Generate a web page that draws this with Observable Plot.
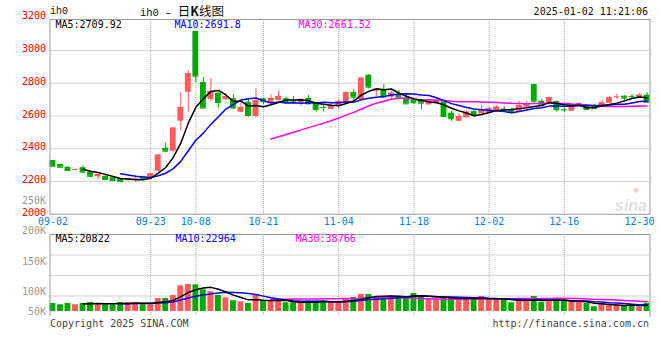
<!DOCTYPE html>
<html><head><meta charset="utf-8">
<script src="https://cdn.jsdelivr.net/npm/d3@7"></script>
<script src="https://cdn.jsdelivr.net/npm/@observablehq/plot@0.6"></script>
<style>
body{margin:0;background:#fff;}
#wrap{position:relative;width:660px;height:360px;font-family:"DejaVu Sans Mono",monospace;font-size:10px;color:#111;overflow:hidden;}
.t{position:absolute;white-space:nowrap;line-height:10px;}
#price,#vol{position:absolute;left:0;}
#price{top:0}
#vol{top:228px}
svg{overflow:visible}
</style></head><body>
<div id="wrap">
  <div id="price"></div>
  <div id="vol"></div>
  <div class="t" style="left:50px;top:7px;font-family:'Liberation Mono',monospace;">ih0</div>
  <div class="t" style="left:140px;top:4px;line-height:13px;"><span style="font-family:'Liberation Mono',monospace;font-size:10.5px">ih0 – </span><span style="font-family:'Noto Sans CJK SC';font-size:12.5px">日<b>K</b>线图</span></div>
  <div class="t" style="right:12px;top:7px;">2025-01-02 11:21:06</div>
  <div class="t" style="left:50px;top:319px;color:#444;">Copyright 2025 SINA.COM</div>
  <div class="t" style="right:11px;top:319px;color:#444;">http://finance.sina.com.cn</div>
</div>
<script>
// ---- data ----
const dates = [
 "09-02","09-03","09-04","09-05","09-06","09-09","09-10","09-11","09-12","09-13",
 "09-18","09-19","09-20","09-23","09-24","09-25","09-26","09-27","09-30",
 "10-08","10-09","10-10","10-11","10-14","10-15","10-16","10-17","10-18",
 "10-21","10-22","10-23","10-24","10-25","10-28","10-29","10-30","10-31",
 "11-01","11-04","11-05","11-06","11-07","11-08","11-11","11-12","11-13","11-14","11-15",
 "11-18","11-19","11-20","11-21","11-22","11-25","11-26","11-27","11-28","11-29",
 "12-02","12-03","12-04","12-05","12-06","12-09","12-10","12-11","12-12","12-13",
 "12-16","12-17","12-18","12-19","12-20","12-23","12-24","12-25","12-26","12-27","12-30","12-31"
];
const open = [2328,2304,2287,2271,2284,2257,2229,2232,2223,2216,2208,2215,2230,2218,2263,2403,2385,2568,2745,
 3116,2805,2701,2739,2699,2705,2623,2684,2597,2705,2681,2695,2705,2693,2681,2707,2674,2653,
 2640,2664,2678,2743,2699,2849,2750,2756,2715,2729,2711,2695,2695,2668,2674,2686,2617,2568,2589,2627,2613,
 2620,2634,2642,2640,2629,2654,2792,2690,2674,2689,2639,2629,2660,2660,2660,2654,2678,2716,2721,2720,2709,2727];
const high = [2330,2306,2290,2276,2296,2259,2247,2235,2225,2218,2218,2235,2232,2252,2364,2436,2528,2742,2878,
 3116,2835,2831,2741,2736,2729,2681,2699,2766,2707,2729,2750,2715,2719,2705,2725,2684,2668,
 2684,2699,2745,2760,2833,2853,2766,2792,2751,2756,2736,2700,2697,2691,2703,2688,2629,2613,2634,2634,2664,
 2654,2664,2658,2648,2690,2689,2794,2701,2715,2691,2648,2666,2682,2668,2672,2695,2721,2733,2723,2731,2736,2742];
const low = [2290,2284,2262,2268,2252,2222,2214,2210,2204,2196,2202,2196,2215,2214,2258,2379,2378,2507,2623,
 2803,2645,2689,2648,2695,2646,2620,2593,2589,2668,2678,2693,2674,2674,2662,2672,2623,2623,
 2638,2641,2676,2695,2697,2764,2719,2713,2701,2701,2672,2670,2638,2666,2672,2595,2568,2566,2587,2593,2611,
 2609,2632,2623,2621,2627,2652,2674,2666,2672,2623,2621,2627,2658,2634,2642,2652,2676,2701,2695,2704,2707,2682];
const close = [2293,2287,2267,2273,2257,2232,2243,2212,2206,2200,2216,2216,2218,2247,2361,2385,2526,2652,2858,
 2843,2648,2750,2682,2719,2648,2652,2603,2695,2687,2707,2719,2681,2691,2701,2674,2640,2651,
 2660,2689,2743,2715,2831,2776,2764,2715,2739,2709,2674,2681,2678,2689,2690,2597,2583,2597,2623,2609,2634,
 2644,2654,2640,2623,2664,2674,2690,2668,2713,2638,2637,2664,2674,2640,2644,2681,2711,2717,2709,2718,2727,2684];
// volume in K, read against the volume axis labels
const volume = [80.1,78.0,80.1,78.0,80.1,81.8,80.1,78.0,78.0,81.8,81.8,81.8,78.0,78.0,88.4,88.4,93.3,109.4,111.5,
 111.0,102.8,99.5,93.3,89.5,84.6,82.9,80.1,94.5,84.6,83.4,83.4,81.3,81.3,81.3,83.9,83.9,83.9,
 81.8,80.6,87.9,90.0,95.0,95.0,90.0,91.2,92.2,91.7,91.2,96.6,92.8,87.2,87.2,90.0,90.0,87.2,87.2,87.2,91.7,
 86.7,87.2,85.1,81.3,87.9,82.9,91.7,81.8,83.4,87.2,84.6,81.8,81.8,80.1,74.7,79.0,77.3,77.3,76.3,77.3,73.5,80.6];
const priceTicks = [2000,2200,2400,2600,2800,3000,3200];
const priceGrid = [2200,2400,2600,2800,3000];
const labelDates = ["09-02","09-23","10-08","10-21","11-04","11-18","12-02","12-16","12-30"];
const gridDates = ["09-23","10-08","10-21","11-04","11-18","12-02","12-16"];
const volTicks = [100,150,200,250];
const volDomain = [58.5, 194.5];
const volFloor = 66.8;
const priceMA = ["MA5:2709.92","MA10:2691.8","MA30:2661.52"];
const volMA = ["MA5:20822","MA10:22964","MA30:38766"];

// ---- styles ----
const RED = "#ff5a5a", GREEN = "#00aa00";
const MA_COLORS = ["#000000","#0000ff","#ff00ff"];
const font = {fontFamily:"'DejaVu Sans Mono', monospace", fontSize:"10px", overflow:"visible", background:"transparent"};
const gridStyle = {stroke:"#a8a8a8", strokeDasharray:"1,1"};

const candles = dates.map((date,i)=>({date, open:open[i], high:high[i], low:low[i], close:close[i], v:volume[i]}));
const col = d => d.close >= d.open ? RED : GREEN;
const xScale = {type:"band", domain:dates, paddingInner:0.22, paddingOuter:0, axis:null};

const price = Plot.plot({
  width:660, height:228,
  marginLeft:49.5, marginRight:10.5, marginTop:19, marginBottom:14.25,
  style:font,
  x:xScale,
  y:{domain:[2000,3189.3], axis:null},
  marks:[
    Plot.ruleY(priceGrid, gridStyle),
    Plot.ruleX(gridDates, gridStyle),
    Plot.text(["sina"], {frameAnchor:"bottom-right", dx:-3, dy:-3, fill:"#e0e0e0", fontSize:16, fontWeight:"bold", fontStyle:"italic", fontFamily:"'Liberation Sans', Arial", textAnchor:"end"}),
    Plot.text(["◉"], {frameAnchor:"bottom-right", dx:-14, dy:-22, fill:"#f7c4c4", fontSize:8, textAnchor:"middle"}),
    Plot.ruleX(candles, {x:"date", y1:"low", y2:"high", stroke:col}),
    Plot.barY(candles, {x:"date", y1:"open", y2:"close", fill:col}),
    Plot.tickY(candles, {x:"date", y:"close", stroke:col}),
    Plot.lineY(candles, Plot.windowY({k:30, anchor:"end", strict:true}, {x:"date", y:"close", stroke:MA_COLORS[2]})),
    Plot.lineY(candles, Plot.windowY({k:10, anchor:"end", strict:true}, {x:"date", y:"close", stroke:MA_COLORS[1]})),
    Plot.lineY(candles, Plot.windowY({k:5, anchor:"end", strict:true}, {x:"date", y:"close", stroke:MA_COLORS[0]})),
    Plot.frame({stroke:"#999"}),
    Plot.text(priceTicks, {y:d=>d, text:d=>String(d), frameAnchor:"left", textAnchor:"end", dx:-4, dy:-1.7, fill:"#ff0000"}),
    Plot.text(labelDates, {x:d=>d, text:d=>d, frameAnchor:"bottom", lineAnchor:"middle", dy:7.5, fill:"#0a80dc"}),
    Plot.text([priceMA[0]], {frameAnchor:"top-left", textAnchor:"start", lineAnchor:"middle", dx:5.5, dy:5, fill:MA_COLORS[0]}),
    Plot.text([priceMA[1]], {frameAnchor:"top-left", textAnchor:"start", lineAnchor:"middle", dx:124.5, dy:5, fill:MA_COLORS[1]}),
    Plot.text([priceMA[2]], {frameAnchor:"top-left", textAnchor:"start", lineAnchor:"middle", dx:248.5, dy:5, fill:MA_COLORS[2]})
  ]
});
document.getElementById("price").appendChild(price);

const vgrid = [1,2,3].map(k => volDomain[0] + k*(volDomain[1]-volDomain[0])/4);
const vol = Plot.plot({
  width:660, height:92,
  marginLeft:49.5, marginRight:10.5, marginTop:6, marginBottom:4,
  style:font,
  x:xScale,
  y:{domain:volDomain, axis:null},
  marks:[
    Plot.ruleY(vgrid, gridStyle),
    Plot.ruleX(gridDates, gridStyle),
    Plot.barY(candles, {x:"date", y1:volFloor, y2:"v", fill:col}),
    Plot.lineY(candles, Plot.windowY({k:30, anchor:"end", strict:true}, {x:"date", y:"v", stroke:MA_COLORS[2]})),
    Plot.lineY(candles, Plot.windowY({k:10, anchor:"end", strict:true}, {x:"date", y:"v", stroke:MA_COLORS[1]})),
    Plot.lineY(candles, Plot.windowY({k:5, anchor:"end", strict:true}, {x:"date", y:"v", stroke:MA_COLORS[0]})),
    Plot.frame({stroke:"#999"}),
    Plot.ruleY([volDomain[0]], {stroke:"#fff", strokeWidth:1.5}),
    Plot.text(volTicks, {y:d=>d, text:d=>d+"K", frameAnchor:"left", textAnchor:"end", dx:-4, fill:"#999"}),
    Plot.text(["50K"], {y:volFloor, frameAnchor:"left", textAnchor:"end", dx:-4, fill:"#999"}),
    Plot.text([volMA[0]], {frameAnchor:"top-left", textAnchor:"start", lineAnchor:"middle", dx:5.5, dy:4.5, fill:MA_COLORS[0]}),
    Plot.text([volMA[1]], {frameAnchor:"top-left", textAnchor:"start", lineAnchor:"middle", dx:125.5, dy:4.5, fill:MA_COLORS[1]}),
    Plot.text([volMA[2]], {frameAnchor:"top-left", textAnchor:"start", lineAnchor:"middle", dx:245.5, dy:4.5, fill:MA_COLORS[2]})
  ]
});
document.getElementById("vol").appendChild(vol);
</script>
</body></html>
